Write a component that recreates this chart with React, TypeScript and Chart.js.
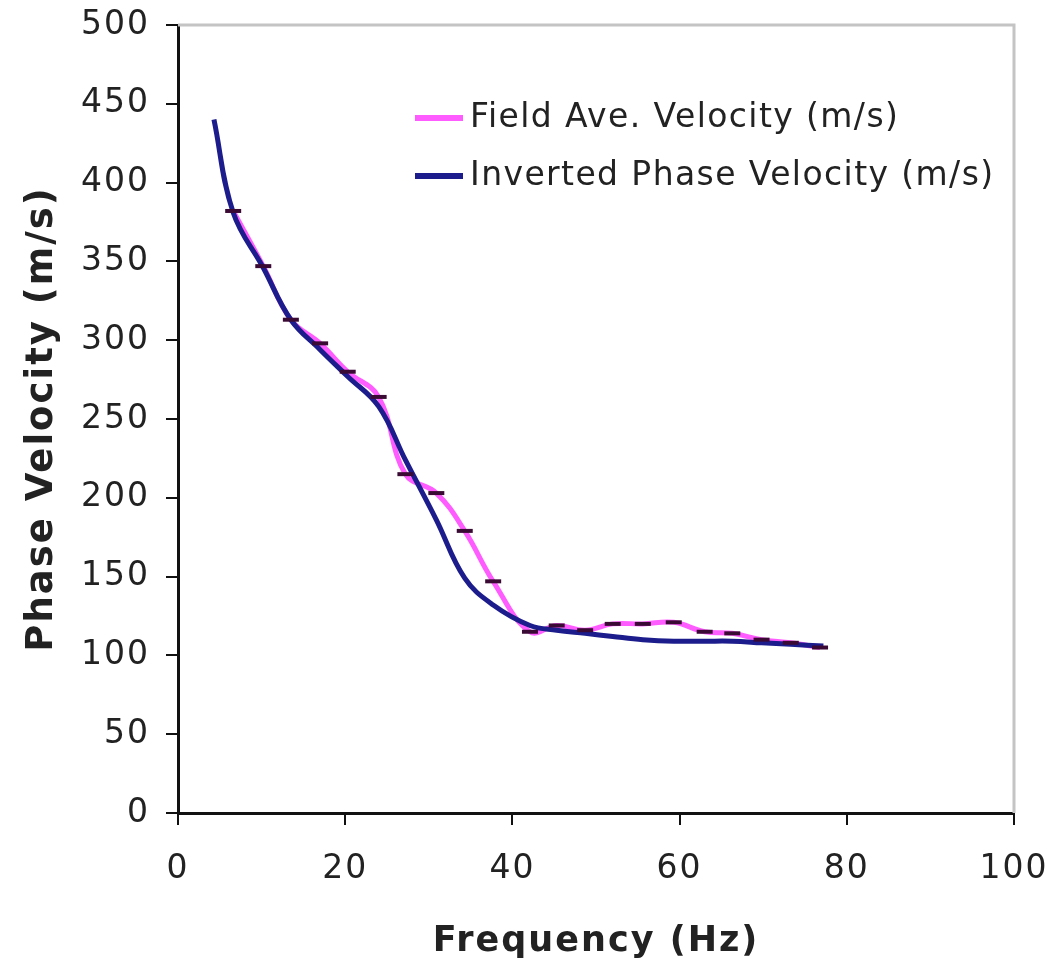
import React, { useEffect, useRef } from "react";
import { Chart, registerables } from "chart.js";

Chart.register(...registerables);

// Field average velocity (dash markers)
const fieldFreq = [6.6, 10.2, 13.5, 17.0, 20.3, 24.0, 27.2, 30.9, 34.3, 37.7, 42.1, 45.3, 48.7, 52.0, 55.6, 59.3, 63.0, 66.3, 69.8, 73.3, 76.8];
const fieldVel = [382, 347, 313, 298, 280, 264, 215, 203, 179, 147, 115, 119, 116, 120, 120, 121, 115, 114, 110, 108, 105];

// Inverted phase velocity (smooth line)
const invFreq = [4.3, 6.6, 10.2, 13.5, 17.0, 20.3, 24.0, 27.2, 30.9, 34.3, 37.7, 42.1, 45.3, 48.7, 52.0, 55.6, 59.3, 63.0, 66.3, 69.8, 73.3, 77.2];
const invVel = [440, 381, 346, 313, 294, 277, 258, 224, 186, 149, 132, 119, 116, 114, 112, 110, 109, 109, 109, 108, 107, 106];

const xTicks = [0, 20, 40, 60, 80, 100];
const yTicks = [0, 50, 100, 150, 200, 250, 300, 350, 400, 450, 500];

const legendLabels = ["Field Ave. Velocity (m/s)", "Inverted Phase Velocity (m/s)"];
const xTitle = "Frequency (Hz)";
const yTitle = "Phase Velocity (m/s)";

const PINK = "#ff5cff";
const NAVY = "#1c1c8c";
const MARK = "#3a0a34";
const FONT = "Verdana, 'DejaVu Sans', sans-serif";

export default function App() {
  const ref = useRef<HTMLCanvasElement | null>(null);

  useEffect(() => {
    const canvas = ref.current;
    if (!canvas) return;

    const toPts = (xs: number[], ys: number[]) => xs.map((x, i) => ({ x, y: ys[i] }));

    const spacingPlugin = {
      id: "spacing",
      beforeLayout(chart: any) {
        (chart.ctx as any).letterSpacing = "2px";
      },
      beforeDraw(chart: any) {
        (chart.ctx as any).letterSpacing = "2px";
      },
    };

    const framePlugin = {
      id: "frame",
      beforeDatasetsDraw(chart: any) {
        const { ctx, chartArea } = chart;
        ctx.save();
        ctx.strokeStyle = "#c4c4c4";
        ctx.lineWidth = 3;
        ctx.beginPath();
        ctx.moveTo(chartArea.left, chartArea.top);
        ctx.lineTo(chartArea.right, chartArea.top);
        ctx.lineTo(chartArea.right, chartArea.bottom);
        ctx.stroke();
        ctx.restore();
      },
    };

    const legendPlugin = {
      id: "innerLegend",
      afterDatasetsDraw(chart: any) {
        const { ctx } = chart;
        const items = [
          { label: legendLabels[0], color: PINK, y: 118 },
          { label: legendLabels[1], color: NAVY, y: 176 },
        ];
        ctx.save();
        items.forEach((it) => {
          ctx.strokeStyle = it.color;
          ctx.lineWidth = 6;
          ctx.beginPath();
          ctx.moveTo(415, it.y);
          ctx.lineTo(463, it.y);
          ctx.stroke();
          ctx.fillStyle = "#222";
          ctx.font = `33px ${FONT}`;
          (ctx as any).letterSpacing = "1.4px";
          ctx.textBaseline = "middle";
          ctx.textAlign = "left";
          ctx.fillText(it.label, 470, it.y);
        });
        ctx.restore();
      },
    };

    const zeroPad = (scale: any) => {
      scale.paddingLeft = 0;
      scale.paddingRight = 0;
      scale.paddingTop = 0;
      scale.paddingBottom = 0;
    };

    const chart = new Chart(canvas, {
      type: "line",
      data: {
        datasets: [
          {
            label: legendLabels[0] + " markers",
            data: toPts(fieldFreq, fieldVel),
            showLine: false,
            pointStyle: "line",
            pointRadius: 8,
            pointBorderWidth: 4,
            pointBorderColor: MARK,
            pointBackgroundColor: MARK,
            borderColor: MARK,
            order: 0,
          },
          {
            label: legendLabels[1],
            data: toPts(invFreq, invVel),
            borderColor: NAVY,
            borderWidth: 5,
            pointRadius: 0,
            tension: 0.4,
            fill: false,
            order: 1,
          },
          {
            label: legendLabels[0],
            data: toPts(fieldFreq, fieldVel),
            borderColor: PINK,
            borderWidth: 5,
            pointRadius: 0,
            tension: 0.4,
            fill: false,
            order: 2,
          },
        ],
      },
      options: {
        animation: false,
        responsive: false,
        devicePixelRatio: 1,
        layout: { padding: { left: 0, right: 44, top: 25, bottom: 0 } },
        plugins: {
          legend: { display: false },
          tooltip: { enabled: false },
        },
        scales: {
          x: {
            type: "linear",
            min: 0,
            max: 100,
            afterBuildTicks: (scale: any) => {
              scale.ticks = xTicks.map((v) => ({ value: v }));
            },
            afterFit: (scale: any) => {
              scale.height = 152;
              zeroPad(scale);
            },
            ticks: {
              font: { family: FONT, size: 33 },
              color: "#222",
              padding: 25,
              maxRotation: 0,
            },
            grid: {
              drawOnChartArea: false,
              drawTicks: true,
              tickLength: 12,
              color: "#111",
              lineWidth: 2,
            },
            border: { display: true, color: "#111", width: 3 },
            title: {
              display: true,
              text: xTitle,
              font: { family: FONT, size: 35, weight: "bold" },
              color: "#222",
              padding: { top: 0, bottom: 2 },
            },
          },
          y: {
            type: "linear",
            min: 0,
            max: 500,
            afterBuildTicks: (scale: any) => {
              scale.ticks = yTicks.map((v) => ({ value: v }));
            },
            afterFit: (scale: any) => {
              scale.width = 178;
              zeroPad(scale);
            },
            ticks: {
              font: { family: FONT, size: 33 },
              color: "#222",
              padding: 16,
            },
            grid: {
              drawOnChartArea: false,
              drawTicks: true,
              tickLength: 12,
              color: "#111",
              lineWidth: 2,
            },
            border: { display: true, color: "#111", width: 3 },
            title: {
              display: true,
              text: yTitle,
              font: { family: FONT, size: 37, weight: "bold" },
              color: "#222",
              padding: { top: 20, bottom: 0 },
            },
          },
        },
      },
      plugins: [spacingPlugin, framePlugin, legendPlugin],
    } as any);

    return () => chart.destroy();
  }, []);

  return (
    <div style={{ position: "absolute", left: 0, top: 0, width: 1058, height: 965, background: "#fff" }}>
      <canvas ref={ref} width={1058} height={965} style={{ display: "block" }} />
    </div>
  );
}
